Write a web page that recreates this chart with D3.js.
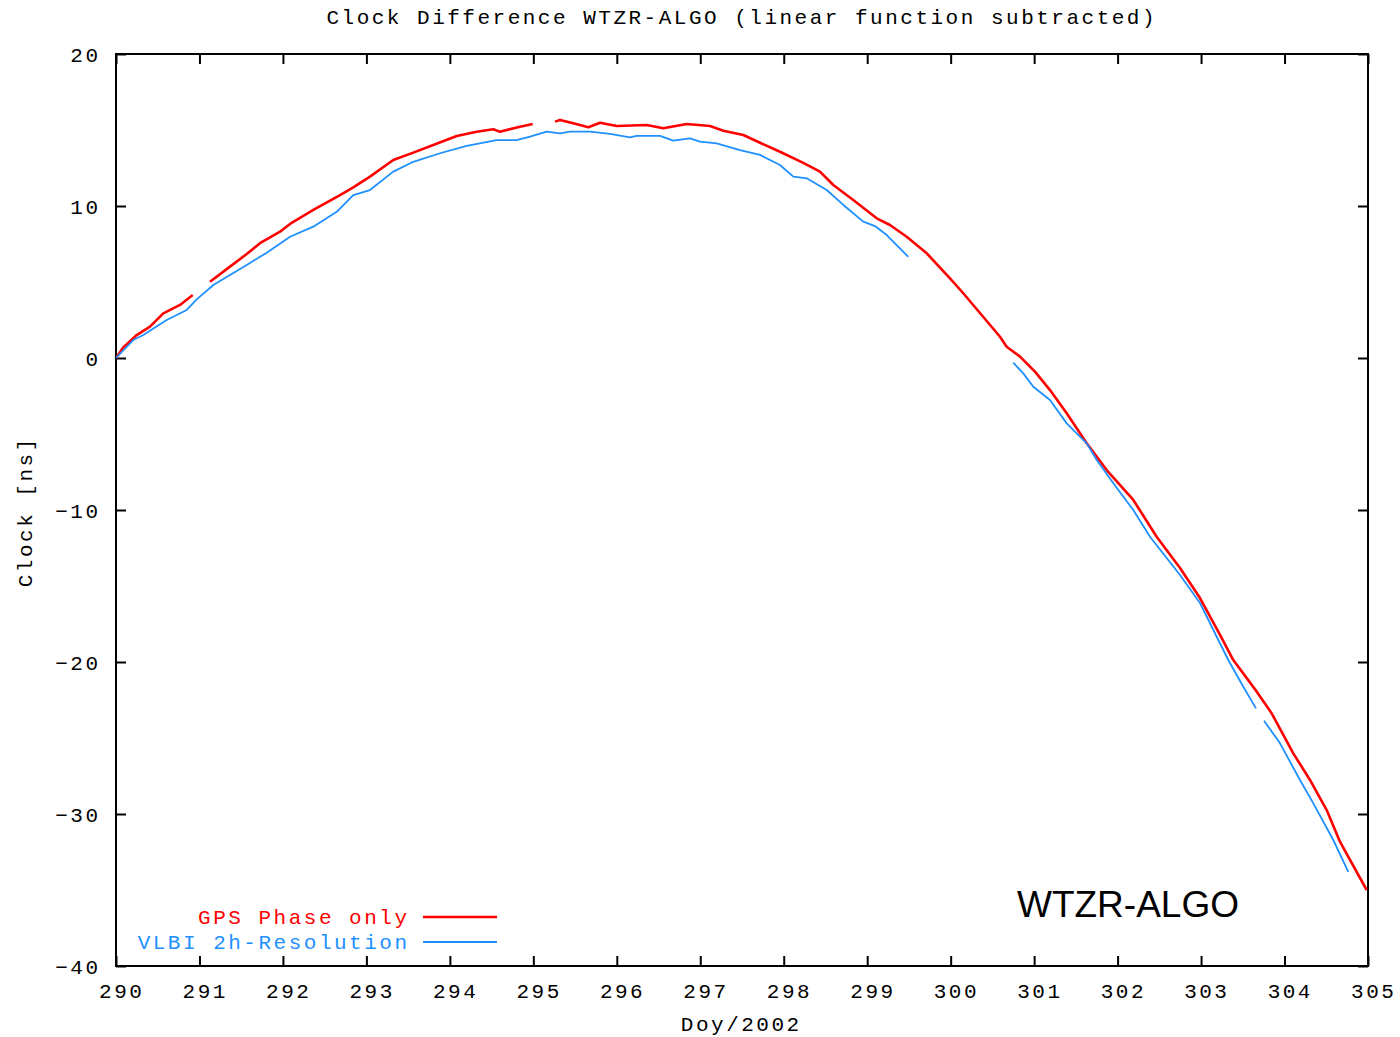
<!DOCTYPE html>
<html><head><meta charset="utf-8">
<script src="https://cdn.jsdelivr.net/npm/d3@7"></script>
<style>
html,body{margin:0;padding:0;background:#fff;}
svg{display:block;}
.mono{font-family:"Liberation Mono","DejaVu Sans Mono",monospace;font-size:21px;letter-spacing:2.5px;fill:#000;}
</style></head>
<body><svg id="chart" width="1400" height="1037"></svg>
<script>
// ---- data ----
const titleText = "Clock Difference WTZR-ALGO (linear function subtracted)";
const xLabel = "Doy/2002";
const yLabel = "Clock [ns]";
const xTicks = [290,291,292,293,294,295,296,297,298,299,300,301,302,303,304,305];
const yTicks = [-40,-30,-20,-10,0,10,20];
const seriesNames = ["GPS Phase only","VLBI 2h-Resolution"];
const seriesColors = ["#ff0000","#1e90ff"];

// GPS Phase only (null = data gap)
const gpsDays = [290.0,290.087,290.248,290.407,290.567,290.767,290.919,290.99,
 291.126,291.366,291.566,291.725,291.965,292.085,292.364,292.684,292.843,293.043,293.322,293.562,293.801,294.082,294.321,294.520,294.601,294.840,294.992,295.1,
 295.260,295.320,295.479,295.659,295.799,295.999,296.358,296.557,296.838,297.117,297.276,297.516,297.716,297.955,298.234,298.434,298.594,298.833,299.114,299.273,299.473,299.713,299.992,300.151,300.591,300.671,300.831,301.010,301.190,301.390,301.630,301.869,302.188,302.468,302.748,302.987,303.227,303.386,303.667,303.846,304.105,304.305,304.505,304.664,304.984];
const gpsValues = [0.0,0.70,1.51,2.06,2.94,3.49,4.14,null,
 5.02,6.01,6.84,7.55,8.31,8.82,9.74,10.72,11.23,11.93,13.03,13.51,14.01,14.61,14.89,15.05,14.89,15.22,15.39,null,
 15.55,15.66,15.44,15.18,15.48,15.26,15.33,15.11,15.39,15.26,14.95,14.67,14.16,13.57,12.84,12.26,11.38,10.39,9.19,8.75,7.98,6.89,5.24,4.26,1.40,0.74,0.09,-0.90,-2.11,-3.64,-5.61,-7.37,-9.34,-11.76,-13.82,-15.79,-18.22,-19.87,-21.95,-23.38,-26.01,-27.76,-29.74,-31.82,-35.0];

// VLBI 2h-Resolution (null = data gap)
const vlbiDays = [290.0,290.207,290.327,290.607,290.847,290.967,291.166,291.366,291.566,291.806,292.085,292.364,292.644,292.843,293.043,293.322,293.562,293.882,294.202,294.561,294.801,294.960,295.160,295.320,295.439,295.679,295.918,296.158,296.238,296.518,296.677,296.877,296.997,297.197,297.476,297.716,297.955,298.115,298.275,298.515,298.714,298.953,299.093,299.234,299.492,299.6,
 300.750,300.870,300.990,301.190,301.390,301.630,301.750,301.949,302.188,302.388,302.748,302.987,303.326,303.506,303.658,303.7,
 303.754,303.946,304.185,304.345,304.584,304.764];
const vlbiValues = [0.0,1.18,1.51,2.50,3.16,3.86,4.80,5.46,6.12,6.93,7.98,8.64,9.62,10.72,11.05,12.26,12.91,13.47,13.95,14.34,14.34,14.56,14.89,14.78,14.89,14.89,14.74,14.52,14.62,14.61,14.30,14.45,14.23,14.12,13.68,13.36,12.70,11.93,11.82,11.05,10.07,8.97,8.68,8.09,6.66,null,
 -0.31,-1.01,-1.89,-2.76,-4.30,-5.61,-6.71,-8.24,-10.0,-11.76,-14.28,-16.12,-19.87,-21.63,-23.05,null,
 -23.86,-25.35,-27.76,-29.30,-31.71,-33.8];

const annotation = "WTZR-ALGO";

// ---- layout ----
const svg = d3.select("#chart");
const L = 116, R = 1368, T = 54, B = 966;
const x = d3.scaleLinear().domain([290,305]).range([L,R]);
const y = d3.scaleLinear().domain([-40,20]).range([B,T]);
const tickLen = 10;
const sp = 2.5; // letter spacing compensation

// title
svg.append("text").attr("class","mono").attr("x",740.5+sp/2).attr("y",24)
  .attr("text-anchor","middle").text(titleText);

// axes with inner ticks
const gx = svg.append("g").attr("transform",`translate(0,${B})`)
  .call(d3.axisBottom(x).tickValues(xTicks).tickSizeInner(-tickLen).tickSizeOuter(0).tickPadding(14).tickFormat(d3.format("d")));
const gxTop = svg.append("g").attr("transform",`translate(0,${T})`)
  .call(d3.axisTop(x).tickValues(xTicks).tickSizeInner(-tickLen).tickSizeOuter(0).tickFormat(""));
const gy = svg.append("g").attr("transform",`translate(${L},0)`)
  .call(d3.axisLeft(y).tickValues(yTicks).tickSizeInner(-tickLen).tickSizeOuter(0).tickPadding(18).tickFormat(d3.format("d")));
const gyR = svg.append("g").attr("transform",`translate(${R},0)`)
  .call(d3.axisRight(y).tickValues(yTicks).tickSizeInner(-tickLen).tickSizeOuter(0).tickFormat(""));

[gx,gxTop,gy,gyR].forEach(g=>{
  g.select(".domain").remove();
  g.selectAll(".tick line").attr("stroke","#000").attr("stroke-width",2);
  g.selectAll(".tick text").attr("class","mono").attr("font-family",null).attr("font-size",null).attr("fill","#000");
});
gx.selectAll(".tick text").attr("dx",sp/2+4).attr("dy","0.85em");
gy.selectAll(".tick text").attr("dx",sp).attr("dy","0.34em");

// frame
svg.append("rect").attr("x",L).attr("y",T).attr("width",R-L).attr("height",B-T)
  .attr("fill","none").attr("stroke","#000").attr("stroke-width",2);

// axis labels
svg.append("text").attr("class","mono").attr("x",740+sp/2).attr("y",1031)
  .attr("text-anchor","middle").text(xLabel);
svg.append("text").attr("class","mono").attr("transform","translate(32,513) rotate(-90)")
  .attr("text-anchor","middle").attr("dx",sp/2).text(yLabel);

// lines
const clipId = "plotclip";
svg.append("clipPath").attr("id",clipId).append("rect").attr("x",L).attr("y",T-5).attr("width",R-L+1).attr("height",B-T+10);
const line = d3.line().defined(d=>d[1]!==null).x(d=>x(d[0])).y(d=>y(d[1]));
const vlbiData = vlbiDays.map((d,i)=>[d,vlbiValues[i]]);
const gpsData = gpsDays.map((d,i)=>[d,gpsValues[i]]);
const plot = svg.append("g").attr("clip-path",`url(#${clipId})`);
plot.append("path").datum(gpsData).attr("d",line).attr("fill","none")
  .attr("stroke",seriesColors[0]).attr("stroke-width",2.6).attr("stroke-linejoin","round");
plot.append("path").datum(vlbiData).attr("d",line).attr("fill","none")
  .attr("stroke",seriesColors[1]).attr("stroke-width",1.8).attr("stroke-linejoin","round");

// legend
const legY = [917, 942];
seriesNames.forEach((n,i)=>{
  svg.append("text").attr("class","mono").attr("x",407+sp).attr("y",legY[i]+7)
    .attr("text-anchor","end").style("fill",seriesColors[i]).text(n);
  svg.append("line").attr("x1",423).attr("x2",497).attr("y1",legY[i]).attr("y2",legY[i])
    .attr("stroke",seriesColors[i]).attr("stroke-width",i===0?2.4:2);
});

// annotation
svg.append("text").attr("x",1017).attr("y",917)
  .attr("font-family","'Liberation Sans',Arial,Helvetica,sans-serif").attr("font-size",37)
  .attr("fill","#000").text(annotation);
</script>
</body></html>
